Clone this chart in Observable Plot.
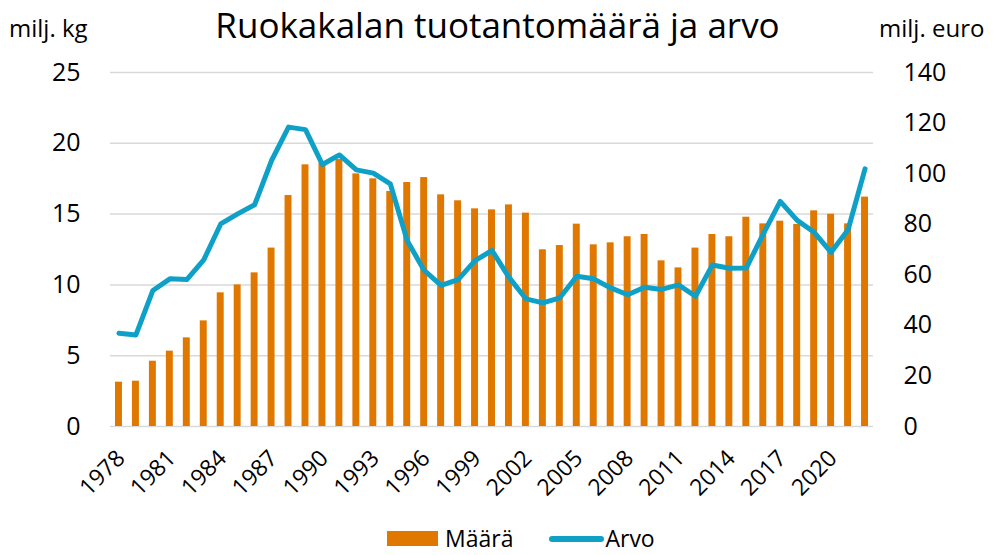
<!DOCTYPE html>
<html>
<head>
<meta charset="utf-8">
<script src="https://cdn.jsdelivr.net/npm/d3@7"></script>
<script src="https://cdn.jsdelivr.net/npm/@observablehq/plot@0.6"></script>
<style>
  html, body { margin: 0; padding: 0; background: #fff; }
  #wrap { position: relative; width: 995px; height: 555px; font-family: "Open Sans", "Noto Sans", sans-serif; color: #000; }
  #wrap svg { position: absolute; left: 0; top: 0; }
  .lbl { position: absolute; white-space: nowrap; line-height: 1; }
  #title { left: 0; width: 995px; text-align: center; top: 7px; font-size: 35px; }
  #ukg { left: 9px; top: 16px; font-size: 24px; }
  #ueur { left: 879px; top: 16px; font-size: 24px; }
  #legend { position: absolute; top: 527px; left: 387px; display: flex; align-items: center; font-size: 23px; line-height: 1; }
  .sw-bar { width: 51px; height: 15px; background: #E07800; display: inline-block; margin-right: 7px; }
  .sw-line { width: 55px; height: 6px; background: #0fa0c8; border-radius: 3px; display: inline-block; margin: 0 1px 0 36px; }
</style>
</head>
<body>
<div id="wrap">
  <div class="lbl" id="title">Ruokakalan tuotantomäärä ja arvo</div>
  <div class="lbl" id="ukg">milj. kg</div>
  <div class="lbl" id="ueur">milj. euro</div>
  <div id="legend"><span class="sw-bar"></span><span>Määrä</span><span class="sw-line"></span><span>Arvo</span></div>
</div>
<script>
const years = d3.range(1978, 2023);
const maara = [3.13, 3.2, 4.61, 5.32, 6.26, 7.46, 9.44, 10.0, 10.85, 12.6,
  16.31, 18.48, 18.6, 18.86, 17.84, 17.49, 16.6, 17.23, 17.58, 16.36,
  15.94, 15.37, 15.3, 15.65, 15.07, 12.48, 12.78, 14.29, 12.83, 12.97,
  13.4, 13.56, 11.7, 11.2, 12.6, 13.56, 13.4, 14.78, 14.31, 14.5,
  14.27, 15.23, 14.99, 14.31, 16.2];
const arvo = [36.9, 36.2, 53.8, 58.4, 58.1, 65.9, 80.1, 84.1, 87.7, 105.2,
  118.4, 117.4, 103.6, 107.4, 101.5, 100.2, 96.0, 73.5, 61.7, 55.8,
  58.1, 65.6, 69.6, 59.0, 50.5, 48.9, 50.9, 59.4, 58.4, 54.8,
  52.1, 55.1, 54.2, 56.0, 51.5, 63.9, 62.6, 62.7, 76.2, 89.0,
  81.5, 76.8, 68.9, 77.8, 101.9];
const leftTicks = [0, 5, 10, 15, 20, 25];
const rightTicks = [0, 20, 40, 60, 80, 100, 120, 140];
const xTicks = [1978, 1981, 1984, 1987, 1990, 1993, 1996, 1999, 2002, 2005, 2008, 2011, 2014, 2017, 2020];

const ratio = 25 / 140;
const bars = years.map((y, i) => ({year: y, v: maara[i]}));
const line = years.map((y, i) => ({year: y, v: arvo[i] * ratio}));

const chart = Plot.plot({
  width: 995,
  height: 555,
  marginTop: 72,
  marginBottom: 129,
  marginLeft: 110,
  marginRight: 122,
  style: {fontFamily: "'Open Sans', 'Noto Sans', sans-serif", fontSize: "24px", color: "#000", background: "transparent"},
  x: {type: "band", domain: years, paddingInner: 0.59, paddingOuter: 0.295},
  y: {domain: [0, 25]},
  marks: [
    Plot.gridY(leftTicks, {stroke: "#d9d9d9", strokeOpacity: 1, strokeWidth: 1.5}),
    Plot.barY(bars, {x: "year", y: "v", fill: "#E07800"}),
    Plot.line(line, {x: "year", y: "v", stroke: "#0fa0c8", strokeWidth: 5, strokeLinejoin: "round", strokeLinecap: "round"}),
    Plot.axisY(leftTicks, {anchor: "left", tickSize: 0, tickPadding: 30, fontSize: 25, label: null}),
    Plot.axisY(rightTicks.map(v => v * ratio), {anchor: "right", tickSize: 0, tickPadding: 30, fontSize: 25, label: null, textAnchor: "start",
      tickFormat: d => String(Math.round(d / ratio))}),
    Plot.axisX(xTicks, {anchor: "bottom", tickSize: 0, tickPadding: 28, dx: 2, tickRotate: -45, fontSize: 23, label: null,
      tickFormat: d => String(d)})
  ]
});
document.getElementById("wrap").prepend(chart);
</script>
</body>
</html>
